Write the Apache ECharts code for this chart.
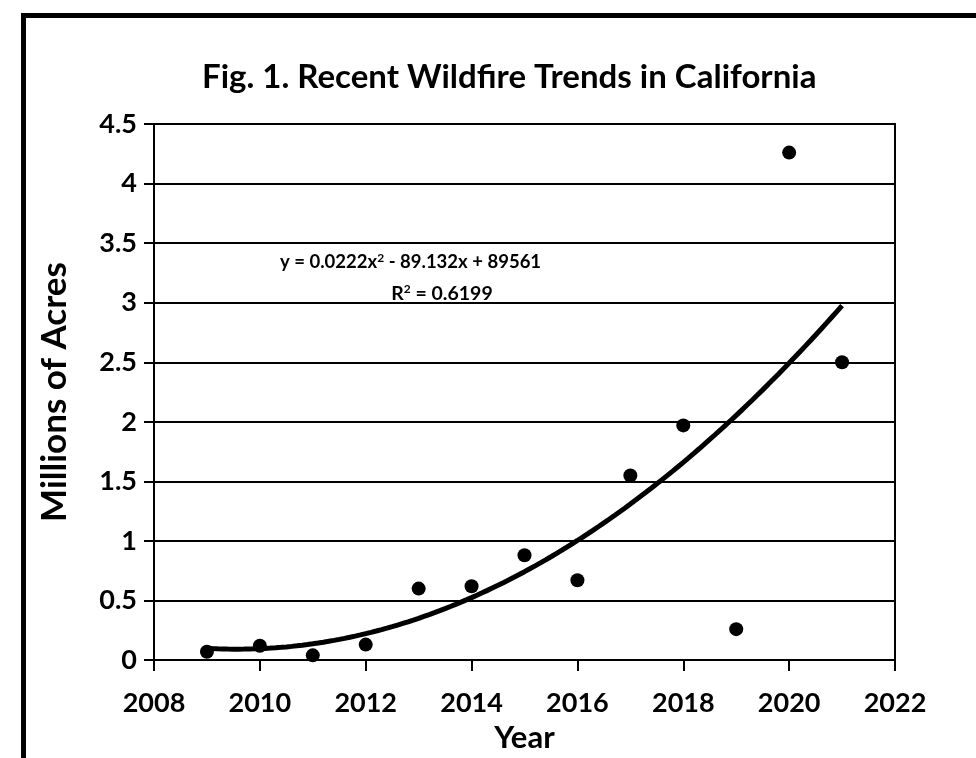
<!DOCTYPE html>
<html>
<head>
<meta charset="utf-8">
<script src="https://cdn.jsdelivr.net/npm/echarts@6/dist/echarts.min.js"></script>
<style>
  html, body { margin: 0; padding: 0; background: #fff; }
  #chart { width: 976px; height: 758px; }
</style>
</head>
<body>
<div id="chart"></div>
<script>
// Annual acres burned in California (millions)
const years = [2009, 2010, 2011, 2012, 2013, 2014, 2015, 2016, 2017, 2018, 2019, 2020, 2021];
const acres = [0.07, 0.12, 0.04, 0.13, 0.60, 0.62, 0.88, 0.67, 1.55, 1.97, 0.26, 4.26, 2.50];
const xTicks = [2008, 2010, 2012, 2014, 2016, 2018, 2020, 2022];
const yTicks = [0, 0.5, 1, 1.5, 2, 2.5, 3, 3.5, 4, 4.5];
const titleText = 'Fig. 1. Recent Wildfire Trends in California';
// trend-line label, {s|..} marks the superscript
const eqLine1 = 'y = 0.0222x{s|2} - 89.132x + 89561';
const eqLine2 = 'R{s|2} = 0.6199';

// Least-squares quadratic trend (x centred to keep the normal equations stable)
function quadFit(xs, ys) {
  const n = xs.length;
  const mx = xs.reduce((a, b) => a + b, 0) / n;
  const s = [0, 0, 0, 0, 0], t = [0, 0, 0];
  xs.forEach((x0, i) => {
    const x = x0 - mx;
    let p = 1;
    for (let k = 0; k < 5; k++) { s[k] += p; if (k < 3) t[k] += p * ys[i]; p *= x; }
  });
  const M = [[s[0], s[1], s[2], t[0]], [s[1], s[2], s[3], t[1]], [s[2], s[3], s[4], t[2]]];
  for (let c = 0; c < 3; c++) {
    for (let r = c + 1; r < 3; r++) {
      const f = M[r][c] / M[c][c];
      for (let k = c; k < 4; k++) M[r][k] -= f * M[c][k];
    }
  }
  const b = [0, 0, 0];
  for (let r = 2; r >= 0; r--) {
    let v = M[r][3];
    for (let k = r + 1; k < 3; k++) v -= M[r][k] * b[k];
    b[r] = v / M[r][r];
  }
  return x => { const d = x - mx; return b[0] + b[1] * d + b[2] * d * d; };
}
const trend = quadFit(years, acres);
const trendPts = [];
for (let i = 0; i <= 120; i++) {
  const x = years[0] + (years[years.length - 1] - years[0]) * i / 120;
  trendPts.push([x, trend(x)]);
}

const font = 'Lato, "Liberation Sans", sans-serif';
const eqRich = {
  s: { fontFamily: font, fontWeight: 'bold', fontSize: 12, color: '#000', padding: [0, 0, 9, 0] }
};
const chart = echarts.init(document.getElementById('chart'), null, { renderer: 'canvas' });
chart.setOption({
  backgroundColor: '#fff',
  animation: false,
  grid: { left: 154, right: 81, top: 124, bottom: 94, show: true, borderColor: '#000', borderWidth: 2, backgroundColor: 'transparent' },
  xAxis: {
    type: 'value', min: xTicks[0], max: xTicks[xTicks.length - 1], interval: 2,
    name: 'Year', nameLocation: 'middle', nameGap: 46,
    nameTextStyle: { fontFamily: font, fontWeight: 'bold', fontSize: 31, color: '#000' },
    axisLine: { lineStyle: { color: '#000', width: 2 } },
    axisTick: { show: true, inside: false, length: 11, lineStyle: { color: '#000', width: 2 } },
    axisLabel: { fontFamily: font, fontWeight: 'bold', fontSize: 27, color: '#000', margin: 30, formatter: v => String(v) },
    splitLine: { show: false }
  },
  yAxis: {
    type: 'value', min: yTicks[0], max: yTicks[yTicks.length - 1], interval: 0.5,
    name: 'Millions of Acres', nameLocation: 'middle', nameGap: 82, nameRotate: 90,
    nameTextStyle: { fontFamily: font, fontWeight: 'bold', fontSize: 35, color: '#000' },
    axisLine: { show: true, lineStyle: { color: '#000', width: 2 } },
    axisTick: { show: true, inside: false, length: 10, lineStyle: { color: '#000', width: 2 } },
    axisLabel: { fontFamily: font, fontWeight: 'bold', fontSize: 27, color: '#000', margin: 17, formatter: v => String(v) },
    splitLine: { show: true, lineStyle: { color: '#000', width: 2 } }
  },
  graphic: [
    { type: 'rect', left: 21, top: 13, z: 100, silent: true,
      shape: { x: 0, y: 0, width: 1000, height: 800 },
      style: { fill: 'none', stroke: '#000', lineWidth: 5 } },
    { type: 'text', left: 202, top: 61, style: { text: titleText, font: 'bold 33px ' + font, fill: '#000' } },
    { type: 'text', left: 280, top: 252, style: { text: eqLine1, font: 'bold 18.5px ' + font, fill: '#000', rich: eqRich } },
    { type: 'text', x: 442, y: 283, style: { text: eqLine2, font: 'bold 19.5px ' + font, fill: '#000', align: 'center', rich: eqRich } }
  ],
  series: [
    { type: 'line', data: trendPts, showSymbol: false, symbol: 'none', smooth: false,
      lineStyle: { color: '#000', width: 5 }, z: 3 },
    { type: 'scatter', data: years.map((y, i) => [y, acres[i]]), symbol: 'circle', symbolSize: 14,
      itemStyle: { color: '#000', opacity: 1 }, z: 4 }
  ]
});
</script>
</body>
</html>
